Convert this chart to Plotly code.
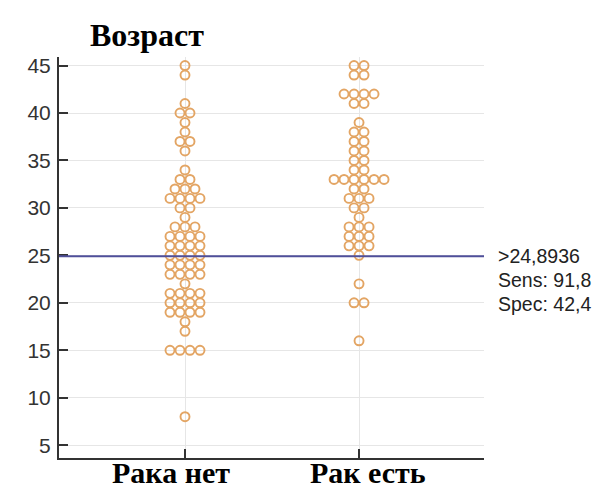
import plotly.graph_objects as go
from collections import Counter

categories = ["Рака нет", "Рак есть"]
no_cancer_ages = [45, 44, 41, 40, 40, 39, 38, 37, 37, 36, 34, 33, 33, 32, 32, 32,
                  31, 31, 31, 31, 30, 30, 29, 28, 28, 28, 27, 27, 27, 27,
                  26, 26, 26, 26, 25, 25, 25, 25, 24, 24, 24, 24, 23, 23, 23, 23,
                  22, 21, 21, 21, 21, 20, 20, 20, 20, 19, 19, 19, 19, 18, 17,
                  15, 15, 15, 15, 8]
cancer_ages = [45, 45, 44, 44, 42, 42, 42, 42, 41, 41, 39, 38, 38, 37, 37, 36, 36,
               35, 35, 34, 34, 33, 33, 33, 33, 33, 33, 32, 32, 31, 31, 31, 30, 30,
               29, 28, 28, 28, 27, 27, 27, 26, 26, 26, 25, 22, 20, 20, 16]
threshold = 24.8936
threshold_text = ">24,8936"
sens_text = "Sens: 91,8"
spec_text = "Spec: 42,4"
y_ticks = [5, 10, 15, 20, 25, 30, 35, 40, 45]

W, H = 607, 490
ML, MR, MT, MB = 51, 131, 49, 40
x_range = [-0.724, 1.718]
y_range = [3.65, 45.9]
px_per_x = (W - ML - MR) / (x_range[1] - x_range[0])
dot_step_px = 10.0

def swarm(values, center):
    xs, ys = [], []
    counts = Counter(values)
    for v in sorted(counts, reverse=True):
        n = counts[v]
        for k in range(n):
            off = (k - (n - 1) / 2) * dot_step_px / px_per_x
            xs.append(center + off)
            ys.append(v)
    return xs, ys

fig = go.Figure()
for i, vals in enumerate([no_cancer_ages, cancer_ages]):
    xs, ys = swarm(vals, i)
    fig.add_trace(go.Scatter(
        x=xs, y=ys, mode="markers",
        marker=dict(symbol="circle-open", size=9, color="#E3A564",
                    line=dict(width=1.9, color="#E3A564")),
        showlegend=False, hoverinfo="y"))

fig.add_shape(type="line", xref="paper", x0=0, x1=1, yref="y",
              y0=threshold, y1=threshold,
              line=dict(color="#4F4F9A", width=2))

for j, t in enumerate([threshold_text, sens_text, spec_text]):
    fig.add_annotation(text=t, xref="paper", x=1, xanchor="left", xshift=12,
                       yref="y", y=threshold, yshift=-24 * j, yanchor="middle",
                       showarrow=False,
                       font=dict(family="Liberation Sans, Arial", size=19.5, color="#222"))

fig.add_annotation(text="<b>Возраст</b>", xref="paper", yref="paper",
                   x=(139 - ML) / (W - ML - MR), y=1, yshift=22, yanchor="middle",
                   xanchor="center", showarrow=False,
                   font=dict(family="Liberation Serif, Times New Roman", size=32, color="#000"))

label_px = [162.5, 360]
for lbl, px in zip(categories, label_px):
    fig.add_annotation(text="<b>" + lbl + "</b>", xref="paper", yref="paper",
                       x=(px - ML) / (W - ML - MR), y=0, yshift=-14,
                       yanchor="middle", xanchor="center", showarrow=False,
                       font=dict(family="Liberation Serif, Times New Roman", size=30, color="#000"))

fig.update_layout(
    width=W, height=H,
    margin=dict(l=ML, r=MR, t=MT, b=MB),
    paper_bgcolor="white", plot_bgcolor="white",
    xaxis=dict(range=x_range, tickvals=[0, 1], ticktext=["", ""],
               showgrid=True, gridcolor="#E6E6E6", gridwidth=1, zeroline=False,
               showline=True, linecolor="#333", linewidth=2,
               ticks="inside", ticklen=9, tickwidth=2, tickcolor="#333"),
    yaxis=dict(range=y_range, tickvals=y_ticks,
               showgrid=True, gridcolor="#E6E6E6", gridwidth=1, zeroline=False,
               showline=True, linecolor="#333", linewidth=2,
               ticks="inside", ticklen=9, tickwidth=2, tickcolor="#333",
               ticklabelstandoff=2,
               tickfont=dict(family="Liberation Sans, Arial", size=21, color="#333")),
)

fig.write_html("out.html")
